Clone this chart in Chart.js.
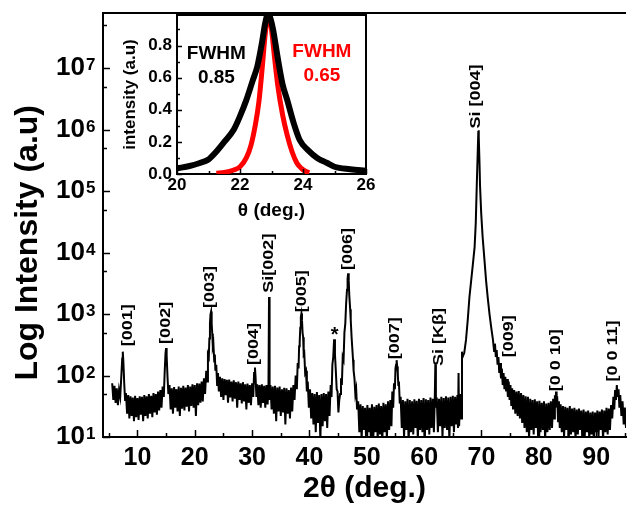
<!DOCTYPE html>
<html>
<head>
<meta charset="utf-8">
<script src="https://cdn.jsdelivr.net/npm/chart.js@4.4.0/dist/chart.umd.min.js"></script>
<style>
  html, body { margin: 0; padding: 0; background: #fff; }
  #wrap { position: relative; width: 627px; height: 507px; }
  #mainChart { position: absolute; left: 0; top: 0; }
  #insetChart { position: absolute; left: 100px; top: 0; }
</style>
</head>
<body>
<div id="wrap">
  <canvas id="mainChart" width="627" height="507"></canvas>
  <canvas id="insetChart" width="275" height="230"></canvas>
</div>
<script>
// XRD scan, 2theta (deg.) and counts
const twoTheta = [
  5.6, 5.8, 6.0, 6.2, 6.4, 6.6, 6.8, 7.0,
  7.2, 7.35, 7.45, 7.55, 7.7, 7.85,
  8.0, 8.2, 8.4, 8.6, 8.8, 9.0, 9.2, 9.4, 9.6, 9.8,
  10.0, 10.2, 10.4, 10.6, 10.8, 11.0, 11.2, 11.4, 11.6, 11.8,
  12.0, 12.2, 12.4, 12.6, 12.8, 13.0, 13.2, 13.4, 13.6, 13.8,
  14.0, 14.2, 14.4,
  14.6, 14.75, 14.9, 15.0, 15.1, 15.25, 15.4,
  15.6, 15.8, 16.0, 16.2, 16.4, 16.6, 16.8, 17.0, 17.2, 17.4,
  17.6, 17.8, 18.0, 18.2, 18.4, 18.6, 18.8, 19.0, 19.2, 19.4,
  19.6, 19.8, 20.0, 20.2, 20.4, 20.6, 20.8, 21.0, 21.2, 21.4,
  21.6, 21.8, 22.0, 22.15, 22.3, 22.45, 22.55, 22.65, 22.75, 22.85,
  22.95, 23.05, 23.15, 23.25, 23.4, 23.5, 23.6, 23.75, 23.9, 24.05,
  24.2, 24.4, 24.6, 24.8, 25.0, 25.2, 25.4, 25.6, 25.8, 26.0,
  26.2, 26.4, 26.6, 26.8, 27.0, 27.2, 27.4, 27.6, 27.8, 28.0,
  28.2, 28.4, 28.6, 28.8, 29.0, 29.2, 29.4, 29.6, 29.8, 30.0,
  30.2, 30.35, 30.5, 30.6, 30.75,
  30.9, 31.1, 31.3, 31.5, 31.7, 31.9, 32.1, 32.3, 32.5, 32.7,
  32.85, 32.95, 33.05,
  33.2, 33.4, 33.6, 33.8, 34.0, 34.2, 34.4, 34.6, 34.8, 35.0,
  35.2, 35.4, 35.6, 35.8, 36.0, 36.2, 36.4, 36.6, 36.8, 37.0,
  37.2,
  37.4, 37.6, 37.8, 37.95, 38.1, 38.2, 38.3, 38.4, 38.5, 38.6,
  38.7, 38.8, 38.9, 39.0, 39.1, 39.25, 39.4, 39.55, 39.7,
  39.9, 40.1, 40.3, 40.5, 40.7, 40.9, 41.1, 41.3, 41.5, 41.7,
  41.9, 42.1, 42.3, 42.5, 42.7, 42.9, 43.1, 43.3, 43.5,
  43.7, 43.85, 44.0, 44.15, 44.3, 44.45, 44.6, 44.75, 44.9, 45.05, 45.2,
  45.35, 45.5, 45.65, 45.8, 45.95, 46.1, 46.25, 46.4, 46.55, 46.65,
  46.75, 46.85, 46.95, 47.1, 47.2, 47.35, 47.45, 47.6, 47.7, 47.85,
  48.0, 48.15, 48.3,
  48.5, 48.7, 48.9, 49.1, 49.3, 49.5, 49.7, 49.9, 50.1, 50.3,
  50.5, 50.7, 50.9, 51.1, 51.3, 51.5, 51.7, 51.9, 52.1, 52.3,
  52.5, 52.7, 52.9, 53.1, 53.3, 53.5, 53.7, 53.9, 54.1, 54.3,
  54.45, 54.6, 54.75, 54.9, 55.0, 55.1, 55.2, 55.3, 55.4, 55.5,
  55.6, 55.75, 55.9,
  56.1, 56.3, 56.5, 56.7, 56.9, 57.1, 57.3, 57.5, 57.7, 57.9,
  58.1, 58.3, 58.5, 58.7, 58.9, 59.1, 59.3, 59.5, 59.7, 59.9,
  60.1, 60.3, 60.5, 60.7, 60.9, 61.1, 61.3, 61.5, 61.7, 61.85,
  61.95, 62.05,
  62.2, 62.4, 62.6, 62.8, 63.0, 63.2, 63.4, 63.6, 63.8, 64.0,
  64.2, 64.4, 64.6, 64.8, 65.0, 65.2, 65.4, 65.6, 65.8, 65.9,
  66.0, 66.1, 66.3, 66.45, 66.6,
  66.7, 67.0, 67.3, 67.6, 67.9, 68.2, 68.5, 68.8, 69.0, 69.2,
  69.35, 69.45, 69.5, 69.55, 69.65, 69.75, 69.95, 70.2, 70.5, 70.8,
  71.1, 71.4, 71.7, 72.0,
  72.2, 72.35, 72.5, 72.65, 72.8, 72.95, 73.1, 73.25, 73.4, 73.55,
  73.7, 73.85, 74.0, 74.15, 74.3, 74.45, 74.6, 74.75, 74.9, 75.05,
  75.2, 75.35, 75.5, 75.7, 75.9, 76.1, 76.3, 76.5, 76.7,
  76.9, 77.1, 77.3, 77.5, 77.7, 77.9, 78.1, 78.3, 78.5, 78.7,
  78.9, 79.1, 79.3, 79.5, 79.7, 79.9, 80.1, 80.3, 80.5, 80.7,
  80.9, 81.1, 81.3, 81.5, 81.7, 81.9, 82.1, 82.3,
  82.5, 82.65, 82.8, 82.9, 83.0, 83.1, 83.2, 83.35, 83.5, 83.65,
  83.8, 84.0, 84.2, 84.4, 84.6, 84.8, 85.0, 85.2, 85.4, 85.6,
  85.8, 86.0, 86.2, 86.4, 86.6, 86.8, 87.0, 87.2, 87.4, 87.6,
  87.8, 88.0, 88.2, 88.4, 88.6, 88.8, 89.0, 89.2, 89.4, 89.6,
  89.8, 90.0, 90.2, 90.4, 90.6, 90.8, 91.0, 91.2, 91.4, 91.6,
  91.8, 92.0, 92.2, 92.4, 92.6,
  92.8, 93.0, 93.15, 93.3, 93.45, 93.6, 93.75, 93.9, 94.05, 94.2,
  94.4, 94.6, 94.8, 95.0, 95.2
];
const counts = [
  75, 40, 68, 36, 62, 33, 58, 45,
  100, 190, 245, 170, 75, 40,
  52, 24, 48, 20, 46, 22, 44, 18, 47, 21,
  43, 19, 46, 23, 45, 18, 48, 22, 46, 20,
  50, 24, 47, 21, 52, 25, 50, 23, 55, 27,
  58, 30, 66,
  45, 110, 230, 280, 210, 95, 50,
  70, 28, 62, 24, 65, 30, 60, 26, 66, 22,
  63, 29, 68, 27, 64, 31, 70, 26, 66, 32,
  72, 30, 70, 22, 75, 33, 74, 36, 80, 38,
  90, 50, 120, 80, 220, 200, 400, 700, 1000, 1100,
  700, 480, 300, 330, 170, 220, 120, 150, 70, 110,
  55, 95, 45, 90, 40, 88, 48, 85, 36, 86,
  44, 80, 38, 84, 42, 78, 30, 80, 40, 75,
  35, 78, 38, 72, 28, 74, 36, 70, 33, 75,
  45, 110, 135, 95, 45,
  72, 33, 70, 30, 72, 36, 68, 30, 70, 34,
  62, 1900, 40,
  70, 28, 66, 24, 68, 18, 64, 26, 66, 22,
  60, 25, 63, 16, 62, 24, 58, 20, 64, 26,
  70,
  40, 100, 60, 160, 130, 300, 350, 600, 900, 1020,
  800, 500, 420, 220, 230, 110, 120, 55, 80,
  30, 60, 20, 52, 16, 50, 12, 54, 17, 48,
  9, 50, 15, 52, 18, 50, 14, 55, 22,
  70, 45, 150, 200, 390, 220, 120, 60, 55, 25, 40,
  50, 90, 70, 200, 180, 500, 700, 1500, 2500, 3800,
  4600, 3500, 2000, 1200, 800, 420, 300, 180, 120, 90,
  50, 60, 28,
  38, 12, 34, 9, 32, 13, 30, 8, 33, 12,
  30, 10, 34, 7, 31, 12, 33, 9, 35, 11,
  32, 8, 36, 12, 34, 9, 38, 13, 40, 15,
  55, 30, 75, 60, 130, 150, 178, 140, 110, 70,
  80, 35, 45,
  14, 40, 10, 38, 13, 42, 8, 40, 12, 38,
  11, 41, 14, 39, 9, 42, 13, 40, 12, 43,
  8, 41, 13, 40, 11, 44, 14, 42, 12, 40,
  150, 30,
  44, 12, 42, 15, 45, 10, 43, 14, 46, 13,
  44, 9, 45, 15, 47, 12, 45, 16, 48, 14,
  110, 15, 50, 20, 245,
  200, 235, 380, 800, 1900, 3500, 6500, 12300, 30000, 150000,
  450000, 950000, 980000, 750000, 300000, 120000, 44000, 18000, 8000, 3500,
  1800, 1000, 600, 380,
  250, 330, 200, 260, 150, 200, 110, 160, 90, 130,
  70, 110, 60, 95, 55, 88, 45, 80, 40, 70,
  32, 62, 28, 58, 24, 55, 22, 56, 20,
  52, 17, 48, 14, 46, 12, 45, 9, 42, 13,
  40, 11, 41, 14, 38, 8, 39, 12, 36, 13,
  38, 9, 35, 12, 36, 13, 38, 14,
  42, 20, 48, 30, 55, 35, 46, 18, 38, 14,
  34, 12, 32, 10, 31, 13, 30, 8, 32, 11,
  29, 12, 30, 9, 28, 11, 29, 13, 27, 8,
  28, 10, 26, 12, 27, 9, 25, 11, 26, 8,
  25, 12, 27, 10, 26, 13, 28, 9, 27, 12,
  30, 11, 29, 13, 33,
  20, 45, 28, 58, 40, 70, 45, 60, 30, 48,
  22, 38, 16, 30, 14
];

// peak labels (text, angle, counts at label centre)
const peakNames = ['[001]', '[002]', '[003]', '[004]', 'Si[002]', '[005]', '*', '[006]', '[007]', 'Si [Kβ]', 'Si [004]', '[009]', '[0 0 10]', '[0 0 11]'];
const peakAngles = [8.4, 15.0, 22.7, 30.35, 32.95, 38.65, 44.4, 46.7, 54.95, 62.5, 69.1, 74.7, 83.05, 92.9];
const peakCounts = [660, 720, 2750, 325, 6750, 2350, 550, 11500, 405, 425, 3470000, 435, 178, 250];

const xTickValues = [5, 10, 15, 20, 25, 30, 35, 40, 45, 50, 55, 60, 65, 70, 75, 80, 85, 90, 95];
const yTickValues = [10, 50, 100, 500, 1e3, 5e3, 1e4, 5e4, 1e5, 5e5, 1e6, 5e6, 1e7, 5e7];

// inset: normalised rocking curves
const blackTheta = [20.0, 20.4, 20.7, 21.0, 21.25, 21.5, 21.8, 22.0, 22.2, 22.4, 22.55, 22.7, 22.8, 22.9, 22.95, 23.05, 23.2, 23.35, 23.5, 23.7, 23.9, 24.15, 24.45, 24.75, 25.0, 25.5, 26.0];
const blackInt = [0.035, 0.05, 0.067, 0.09, 0.14, 0.2, 0.275, 0.36, 0.46, 0.58, 0.67, 0.82, 0.94, 1.0, 0.98, 0.9, 0.72, 0.56, 0.46, 0.32, 0.21, 0.15, 0.1, 0.07, 0.045, 0.03, 0.02];
const redTheta = [21.25, 21.5, 21.8, 22.0, 22.2, 22.35, 22.5, 22.6, 22.7, 22.8, 22.9, 23.0, 23.1, 23.2, 23.35, 23.5, 23.65, 23.8, 23.95, 24.1, 24.2];
const redInt = [0.005, 0.01, 0.025, 0.045, 0.1, 0.18, 0.32, 0.45, 0.65, 0.87, 1.0, 0.9, 0.72, 0.55, 0.37, 0.24, 0.14, 0.07, 0.035, 0.015, 0.008];

const insetXTicks = [20, 21, 22, 23, 24, 25, 26];
const insetYTicks = [0.0, 0.1, 0.2, 0.3, 0.4, 0.5, 0.6, 0.7, 0.8, 0.9];
const noteTexts = ['FWHM', '0.85', 'FWHM', '0.65'];
const noteTheta = [21.25, 21.25, 24.6, 24.6];
const noteInt = [0.75, 0.6, 0.76, 0.61];
const noteColors = ['#000', '#000', '#ff0000', '#ff0000'];

const FONT = '"Liberation Sans", Arial, sans-serif';

// ticks pointing into the plot + top frame line
function inwardTicks(id, major, minor, box) {
  return {
    id: id,
    afterDraw(chart) {
      const { ctx, chartArea: a, scales: { x, y } } = chart;
      ctx.save();
      ctx.strokeStyle = '#000';
      ctx.lineWidth = 1.5;
      x.ticks.forEach(t => {
        const px = Math.round(x.getPixelForValue(t.value)) + 0.5;
        const len = t.label ? major : minor;
        ctx.beginPath(); ctx.moveTo(px, a.bottom); ctx.lineTo(px, a.bottom - len); ctx.stroke();
      });
      y.ticks.forEach(t => {
        const py = Math.round(y.getPixelForValue(t.value)) + 0.5;
        const len = t.label ? major : minor;
        ctx.beginPath(); ctx.moveTo(a.left, py); ctx.lineTo(a.left + len, py); ctx.stroke();
      });
      ctx.lineWidth = 2;
      ctx.beginPath();
      ctx.moveTo(a.left, a.top); ctx.lineTo(a.right, a.top);
      if (box) { ctx.lineTo(a.right, a.bottom); }
      ctx.stroke();
      ctx.restore();
    }
  };
}

const exponents = {
  id: 'exponents',
  afterDraw(chart) {
    const { ctx, chartArea: a, scales: { y } } = chart;
    ctx.save();
    ctx.fillStyle = '#000';
    ctx.font = 'bold 17px ' + FONT;
    ctx.textAlign = 'left';
    ctx.textBaseline = 'alphabetic';
    y.ticks.forEach(t => {
      if (!t.label) return;
      const py = y.getPixelForValue(t.value);
      ctx.fillText(String(Math.round(Math.log10(t.value))), a.left - y.options.ticks.padding + 1, py + 2);
    });
    ctx.restore();
  }
};

const peakLabels = {
  id: 'peakLabels',
  afterDatasetsDraw(chart) {
    const { ctx, scales: { x, y } } = chart;
    ctx.save();
    ctx.fillStyle = '#000';
    ctx.font = 'bold 15px ' + FONT;
    ctx.textAlign = 'center';
    ctx.textBaseline = 'middle';
    peakNames.forEach((name, i) => {
      const px = x.getPixelForValue(peakAngles[i]);
      const py = y.getPixelForValue(peakCounts[i]);
      ctx.save();
      ctx.translate(px, py);
      if (name === '*') {
        ctx.font = 'bold 20px ' + FONT;
        ctx.fillText(name, 0, 5);
      } else {
        ctx.rotate(-Math.PI / 2);
        ctx.scale(1.2, 1);
        ctx.fillText(name, 0, 0);
      }
      ctx.restore();
    });
    ctx.restore();
  }
};

const notes = {
  id: 'notes',
  afterDatasetsDraw(chart) {
    const { ctx, scales: { x, y } } = chart;
    ctx.save();
    ctx.font = 'bold 19px ' + FONT;
    ctx.textAlign = 'center';
    ctx.textBaseline = 'middle';
    noteTexts.forEach((txt, i) => {
      ctx.fillStyle = noteColors[i];
      ctx.fillText(txt, x.getPixelForValue(noteTheta[i]), y.getPixelForValue(noteInt[i]));
    });
    ctx.restore();
  }
};

// keep Chart.js from adding label overhang padding around the plot
function noOverhang(s) {
  s.paddingTop = 0; s.paddingBottom = 0; s.paddingLeft = 0; s.paddingRight = 0;
}

new Chart(document.getElementById('mainChart'), {
  type: 'line',
  data: {
    datasets: [{
      data: twoTheta.map((a, i) => ({ x: a, y: counts[i] })),
      borderColor: '#000',
      borderWidth: 2,
      pointRadius: 0,
      tension: 0,
      fill: false
    }]
  },
  options: {
    responsive: false,
    animation: false,
    layout: { padding: { top: 13, right: 1, left: 0, bottom: 0 } },
    plugins: { legend: { display: false }, tooltip: { enabled: false } },
    scales: {
      x: {
        type: 'linear', min: 4, max: 95.2,
        afterBuildTicks: s => { s.ticks = xTickValues.map(v => ({ value: v })); },
        afterFit: s => { s.height = 70; noOverhang(s); },
        grid: { display: false, drawTicks: false },
        border: { color: '#000', width: 2 },
        ticks: {
          autoSkip: false, maxRotation: 0, padding: 6, color: '#000',
          font: { family: FONT, size: 25, weight: 'bold' },
          callback: v => (v % 10 === 0 ? String(v) : '')
        },
        title: {
          display: true, text: '2θ (deg.)', color: '#000',
          font: { family: FONT, size: 30, weight: 'bold' },
          padding: { top: 0, bottom: 0 }
        }
      },
      y: {
        type: 'logarithmic', min: 10, max: 7.94e7,
        afterBuildTicks: s => { s.ticks = yTickValues.map(v => ({ value: v })); },
        afterFit: s => { s.width = 103; noOverhang(s); },
        grid: { display: false, drawTicks: false },
        border: { color: '#000', width: 2 },
        ticks: {
          autoSkip: false, padding: 18, color: '#000',
          font: { family: FONT, size: 26, weight: 'bold' },
          callback: v => (Number.isInteger(Math.log10(v)) ? '10' : '')
        },
        title: {
          display: true, text: 'Log Intensity (a.u)\u00a0\u00a0\u00a0\u00a0', color: '#000',
          font: { family: FONT, size: 32, weight: 'bold' },
          padding: { top: 9, bottom: 0 }
        }
      }
    }
  },
  plugins: [inwardTicks('mainTicks', 7, 4, false), exponents, peakLabels]
});

new Chart(document.getElementById('insetChart'), {
  type: 'line',
  data: {
    datasets: [
      {
        data: blackTheta.map((a, i) => ({ x: a, y: blackInt[i] })),
        borderColor: '#000', borderWidth: 6, pointRadius: 0,
        cubicInterpolationMode: 'monotone', fill: false
      },
      {
        data: redTheta.map((a, i) => ({ x: a, y: redInt[i] })),
        borderColor: '#ff0000', borderWidth: 5, pointRadius: 0,
        cubicInterpolationMode: 'monotone', fill: false
      }
    ]
  },
  options: {
    responsive: false,
    animation: false,
    layout: { padding: { top: 15, right: 9, left: 0, bottom: 0 } },
    plugins: { legend: { display: false }, tooltip: { enabled: false } },
    scales: {
      x: {
        type: 'linear', min: 20, max: 26,
        afterBuildTicks: s => { s.ticks = insetXTicks.map(v => ({ value: v })); },
        afterFit: s => { s.height = 56; noOverhang(s); },
        grid: { display: false, drawTicks: false },
        border: { color: '#000', width: 2 },
        ticks: {
          autoSkip: false, maxRotation: 0, padding: 1, color: '#000',
          font: { family: FONT, size: 17, weight: 'bold' },
          callback: v => (v % 2 === 0 ? String(v) : '')
        },
        title: {
          display: true, text: 'θ (deg.)', color: '#000',
          font: { family: FONT, size: 19, weight: 'bold' },
          padding: { top: 0, bottom: 8 }
        }
      },
      y: {
        type: 'linear', min: 0, max: 0.99,
        afterBuildTicks: s => { s.ticks = insetYTicks.map(v => ({ value: v })); },
        afterFit: s => { s.width = 77; noOverhang(s); },
        grid: { display: false, drawTicks: false },
        border: { color: '#000', width: 2 },
        ticks: {
          autoSkip: false, padding: 5, color: '#000',
          font: { family: FONT, size: 17, weight: 'bold' },
          callback: (v, i) => (i % 2 === 0 && v < 0.85 ? v.toFixed(1) : '')
        },
        title: {
          display: true, text: 'intensity (a.u)', color: '#000',
          font: { family: FONT, size: 17, weight: 'bold' },
          padding: { top: 20, bottom: 0 }
        }
      }
    }
  },
  plugins: [inwardTicks('insetTicks', 5, 3, true), notes]
});
</script>
</body>
</html>
